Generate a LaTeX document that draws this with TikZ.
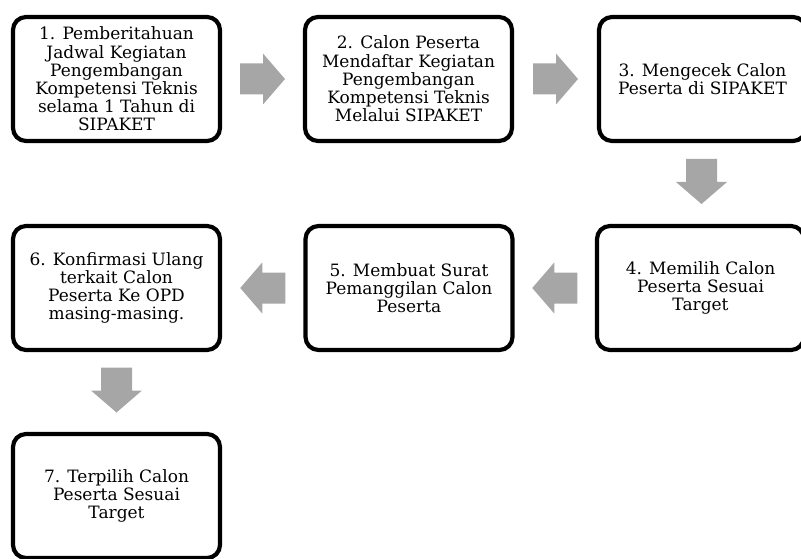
\documentclass[tikz,border=0pt]{standalone}
\usepackage{fontspec}
\setmainfont{DejaVu Serif}
\usetikzlibrary{calc}
\definecolor{arrowgray}{HTML}{A6A6A6}
\newcommand\boxfont{\fontsize{17pt}{18.2pt}\selectfont}
\tikzset{
  stepbox/.style={draw=black, line width=4.2pt, rounded corners=13pt, fill=white,
    minimum width=207pt, minimum height=124pt, inner sep=0pt, align=center,
    font=\boxfont},
  blockarrow/.pic={\fill[arrowgray] (-22.5,-15.5) -- (0.5,-15.5) -- (0.5,-25.5) -- (22.5,0) -- (0.5,25.5) -- (0.5,15.5) -- (-22.5,15.5) -- cycle;}
}
\begin{document}
\begin{tikzpicture}[x=1pt,y=-1pt]
\useasboundingbox (0,0) rectangle (801,559);
\node[stepbox] (b1) at (116.5,79) {1. Pemberitahuan\\Jadwal Kegiatan\\Pengembangan\\Kompetensi Teknis\\selama 1 Tahun di\\SIPAKET};
\node[stepbox] (b2) at (408.5,79) {2. Calon Peserta\\Mendaftar Kegiatan\\Pengembangan\\Kompetensi Teknis\\Melalui SIPAKET};
\node[stepbox] (b3) at (702.5,79) {3. Mengecek Calon\\Peserta di SIPAKET};
\node[stepbox] (b4) at (700.5,288) {4. Memilih Calon\\Peserta Sesuai\\Target};
\node[stepbox] (b5) at (409,288) {5. Membuat Surat\\Pemanggilan Calon\\Peserta};
\node[stepbox] (b6) at (116.5,288) {6. Konfirmasi Ulang\\terkait Calon\\Peserta Ke OPD\\masing-masing.};
\node[stepbox] (b7) at (116.5,496) {7. Terpilih Calon\\Peserta Sesuai\\Target};
\coordinate (a12) at ($(b1.east)!0.5!(b2.west)$);
\coordinate (a23) at ($(b2.east)!0.5!(b3.west)$);
\coordinate (a34) at ($(b3.south)!0.5!(b4.north)+(0,-2)$);
\coordinate (a45) at ($(b4.west)!0.5!(b5.east)$);
\coordinate (a56) at ($(b5.west)!0.5!(b6.east)$);
\coordinate (a67) at ($(b6.south)!0.5!(b7.north)+(0,-2)$);
\pic at (a12) {blockarrow};
\pic at (a23) {blockarrow};
\pic[rotate=-90] at (a34) {blockarrow};
\pic[rotate=180] at (a45) {blockarrow};
\pic[rotate=180] at (a56) {blockarrow};
\pic[rotate=-90] at (a67) {blockarrow};
\end{tikzpicture}
\end{document}
